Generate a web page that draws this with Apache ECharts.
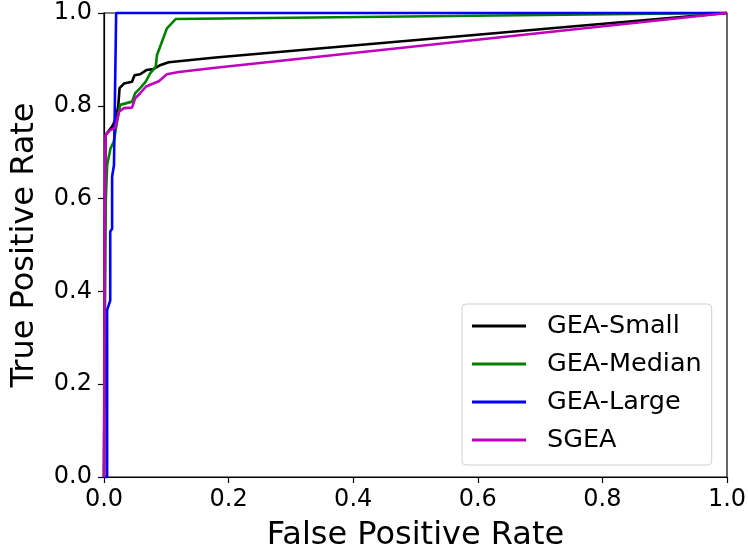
<!DOCTYPE html>
<html>
<head>
<meta charset="utf-8">
<script src="https://cdn.jsdelivr.net/npm/echarts@6/dist/echarts.min.js"></script>
<style>html,body{margin:0;padding:0;background:#fff;}#c{width:748px;height:552px;}</style>
</head>
<body>
<div id="c"></div>
<script>
const seriesNames = ['GEA-Small', 'GEA-Median', 'GEA-Large', 'SGEA'];
const xTicks = [0, 0.2, 0.4, 0.6, 0.8, 1.0];
const yTicks = [0, 0.2, 0.4, 0.6, 0.8, 1.0];

const smallFpr = [0, 0.002, 0.0024, 0.013, 0.0195, 0.023, 0.025, 0.032, 0.045, 0.049, 0.058, 0.068, 0.079, 0.091, 0.104, 0.179, 1.0];
const smallTpr = [0, 0.60, 0.737, 0.755, 0.773, 0.802, 0.838, 0.848, 0.852, 0.866, 0.868, 0.877, 0.879, 0.888, 0.894, 0.904, 1.0];

const medianFpr = [0, 0.002, 0.003, 0.005, 0.0104, 0.0157, 0.021, 0.026, 0.045, 0.050, 0.058, 0.067, 0.074, 0.083, 0.085, 0.093, 0.101, 0.115, 1.0];
const medianTpr = [0, 0.50, 0.60, 0.672, 0.708, 0.723, 0.766, 0.802, 0.809, 0.827, 0.838, 0.852, 0.870, 0.884, 0.909, 0.938, 0.967, 0.987, 1.0];

const largeFpr = [0, 0.005, 0.005, 0.010, 0.010, 0.013, 0.013, 0.016, 0.0195, 1.0];
const largeTpr = [0, 0, 0.36, 0.38, 0.529, 0.535, 0.647, 0.672, 1.0, 1.0];

const sgeaFpr = [0, 0.001, 0.0024, 0.0104, 0.018, 0.024, 0.032, 0.045, 0.050, 0.058, 0.067, 0.077, 0.088, 0.101, 0.120, 0.179, 1.0];
const sgeaTpr = [0, 0.55, 0.737, 0.748, 0.752, 0.787, 0.795, 0.796, 0.816, 0.827, 0.841, 0.847, 0.853, 0.868, 0.873, 0.882, 1.0];

const colors = ['#000000', '#008000', '#0000ff', '#bf00bf'];
const curves = [[smallFpr, smallTpr], [medianFpr, medianTpr], [largeFpr, largeTpr], [sgeaFpr, sgeaTpr]];

const font = 'DejaVu Sans';
const chart = echarts.init(document.getElementById('c'), null, {renderer: 'canvas'});
chart.setOption({
  animation: false,
  textStyle: {fontFamily: font, color: '#000'},
  grid: {left: 104, right: 21, top: 13, bottom: 75, containLabel: false, outerBoundsMode: 'none',
         show: true, borderColor: '#000', borderWidth: 1.2, backgroundColor: 'transparent'},
  legend: {
    orient: 'vertical', left: 462, top: 304,
    data: seriesNames.map((n, i) => ({name: n, icon: 'rect', itemStyle: {color: colors[i]}})),
    itemWidth: 54, itemHeight: 3, itemGap: 12,
    padding: [9, 10, 12, 10],
    backgroundColor: '#fff', borderColor: '#d0d0d0', borderWidth: 1, borderRadius: 4,
    textStyle: {fontFamily: font, fontSize: 25.5, color: '#000', lineHeight: 26, padding: [0, 0, 0, 16]}
  },
  xAxis: {
    type: 'value', min: 0, max: 1, interval: 0.2,
    name: 'False Positive Rate', nameLocation: 'middle', nameGap: 43,
    nameTextStyle: {fontFamily: font, fontSize: 32, color: '#000'},
    axisLine: {lineStyle: {color: '#000', width: 1.2}},
    axisTick: {show: true, inside: false, length: 6, lineStyle: {color: '#000', width: 1.2}},
    axisLabel: {fontFamily: font, fontSize: 24, color: '#000', margin: 11, formatter: v => xTicks.includes(+v.toFixed(1)) ? v.toFixed(1) : ''},
    splitLine: {show: false}
  },
  yAxis: {
    type: 'value', min: 0, max: 1, interval: 0.2,
    name: 'True Positive Rate', nameLocation: 'middle', nameGap: 63,
    nameTextStyle: {fontFamily: font, fontSize: 32, color: '#000'},
    axisLine: {lineStyle: {color: '#000', width: 1.2}},
    axisTick: {show: true, inside: false, length: 6, lineStyle: {color: '#000', width: 1.2}},
    axisLabel: {fontFamily: font, fontSize: 24, color: '#000', margin: 12, formatter: v => yTicks.includes(+v.toFixed(1)) ? v.toFixed(1) : ''},
    splitLine: {show: false}
  },
  series: curves.map((c, i) => ({
    name: seriesNames[i], type: 'line', showSymbol: false, clip: false,
    data: c[0].map((x, j) => [x, c[1][j]]),
    lineStyle: {color: colors[i], width: 2.6},
    itemStyle: {color: colors[i]},
    z: 2 + i
  }))
});
</script>
</body>
</html>
